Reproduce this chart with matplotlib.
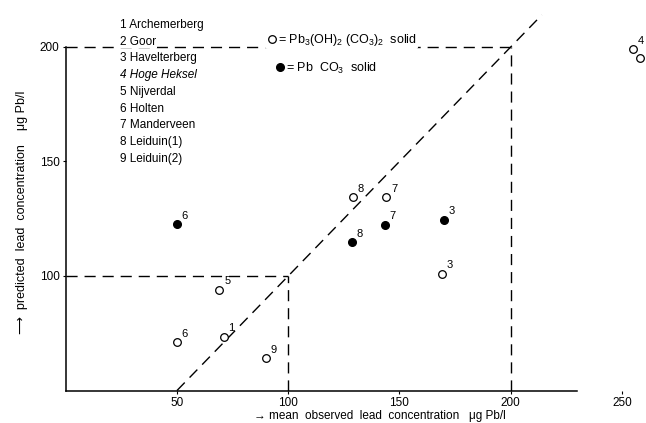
import matplotlib
matplotlib.use("Agg")
import matplotlib.pyplot as plt
from matplotlib.lines import Line2D

plt.rcParams['font.family'] = ['Liberation Sans', 'DejaVu Sans']
plt.rcParams['mathtext.fontset'] = 'custom'
plt.rcParams['mathtext.rm'] = 'Liberation Sans'
plt.rcParams['mathtext.it'] = 'Liberation Sans:italic'

# Sites
site_names = ["Archemerberg", "Goor", "Havelterberg", "Hoge Heksel", "Nijverdal",
              "Holten", "Manderveen", "Leiduin(1)", "Leiduin(2)"]

# Pb3(OH)2(CO3)2 solid (open circles)
hyd_x = [71, 255, 258, 169, 69, 50, 144, 129, 90]
hyd_y = [73.4, 199, 195, 101, 94, 71, 134.5, 134.5, 64]
hyd_lab = ["1", "4", "", "3", "5", "6", "7", "8", "9"]

# PbCO3 solid (filled circles)
carb_x = [170, 50, 143.5, 128.7]
carb_y = [124.5, 122.7, 122.3, 114.8]
carb_lab = ["3", "6", "7", "8"]

x_ticks = [50, 100, 150, 200, 250]
y_ticks = [100, 150, 200]

fig = plt.figure(figsize=(6.46, 4.23), dpi=100)
ax = fig.add_axes([65.75 / 646, 0.0768, (646 - 65.75) / 646, 1 - 0.0768])
ax.set_xlim(0, 260.8)
ax.set_ylim(50, 220.5)

dash = dict(color='black', lw=1.0, dashes=(8, 5))
# reference lines
ax.plot([0, 200], [200, 200], **dash, zorder=1)
ax.plot([200, 200], [50, 200], **dash, zorder=1)
ax.plot([0, 100], [100, 100], **dash, zorder=1)
ax.plot([100, 100], [50, 100], **dash, zorder=1)
ax.plot([50, 214], [50, 214], **dash, zorder=1)

ms = 5.5
ax.plot(hyd_x, hyd_y, 'o', ms=ms, mfc='white', mec='black', mew=0.9, ls='none', zorder=3)
ax.plot(carb_x, carb_y, 'o', ms=ms, mfc='black', mec='black', ls='none', zorder=3)
for x, y, t in zip(hyd_x, hyd_y, hyd_lab):
    if t:
        ax.annotate(t, (x, y), xytext=(3.5, 2.5), textcoords='offset points',
                    fontsize=8, ha='left', va='bottom')
for x, y, t in zip(carb_x, carb_y, carb_lab):
    ax.annotate(t, (x, y), xytext=(3.5, 2.5), textcoords='offset points',
                fontsize=8, ha='left', va='bottom')

# spines and ticks
for s in ('top', 'right'):
    ax.spines[s].set_visible(False)
ax.spines['left'].set_bounds(50, 200)
ax.spines['bottom'].set_bounds(0, 230)
ax.spines['left'].set_linewidth(1.1)
ax.spines['bottom'].set_linewidth(1.1)
ax.set_xticks(x_ticks)
ax.set_yticks(y_ticks)
ax.tick_params(axis='both', length=2.5, width=0.8, labelsize=8.5, pad=2)
ax.patch.set_alpha(0)

# site list
for i, name in enumerate(site_names):
    style = 'italic' if i == 3 else 'normal'
    fig.text(120 / 646, 1 - (25 + i * 16.7) / 423, f"{i + 1} {name}", fontsize=8.5,
             ha='left', va='center', style=style,
             bbox=dict(facecolor='white', edgecolor='none', pad=0.5))

# solid phase key
key_handles = [Line2D([], [], marker='o', ls='none', ms=ms, mfc='white', mec='black', mew=0.9),
               Line2D([], [], marker='o', ls='none', ms=ms, mfc='black', mec='black')]
key_labels = [r"= Pb$_3$(OH)$_2$ (CO$_3$)$_2$  solid", r"= Pb  CO$_3$  solid"]
key_pos = [(265, 40), (273, 68)]
for h, lab, (px, py) in zip(key_handles, key_labels, key_pos):
    leg = fig.legend([h], [lab], loc='center left', bbox_to_anchor=(px / 646, 1 - py / 423),
                     frameon=True, fontsize=9, handletextpad=0.05, handlelength=0.9,
                     borderpad=0.1, borderaxespad=0)
    leg.get_frame().set_edgecolor('none')
    leg.get_frame().set_facecolor('white')
    leg.get_frame().set_alpha(1)

# axis titles
fig.text(380 / 646, 1 - 416 / 423, "\u2192 mean  observed  lead  concentration   \u03bcg Pb/l",
         fontsize=8.5, ha='center', va='center')
fig.text(22 / 646, 1 - 334 / 423, "\u27f6  predicted  lead  concentration    \u03bcg Pb/l",
         fontsize=9, ha='center', va='bottom', rotation=90)

fig.savefig("out.png", dpi=100)
